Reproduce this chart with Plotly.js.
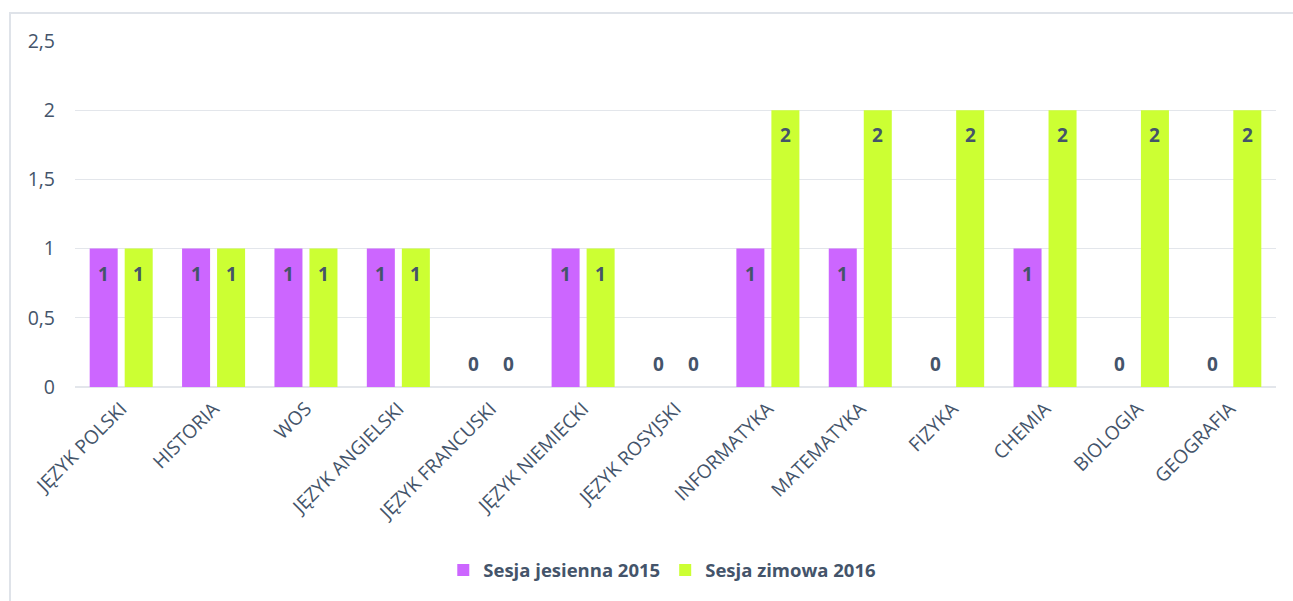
<!DOCTYPE html>
<html><head><meta charset="utf-8">
<script src="https://cdn.plot.ly/plotly-3.0.1.min.js"></script>
<style>
html,body{margin:0;padding:0;background:#fff;overflow:hidden}
#frame{position:absolute;left:9px;top:12px;width:1284px;height:589px;border-top:2px solid #dfe3e9;border-left:2px solid #dfe3e9;}
#chart{width:1282px;height:587px}
</style></head>
<body>
<div id="frame"><div id="chart"></div></div>
<script>
const categories = ["JĘZYK POLSKI","HISTORIA","WOS","JĘZYK ANGIELSKI","JĘZYK FRANCUSKI","JĘZYK NIEMIECKI","JĘZYK ROSYJSKI","INFORMATYKA","MATEMATYKA","FIZYKA","CHEMIA","BIOLOGIA","GEOGRAFIA"];
const seriesNames = ["Sesja jesienna 2015","Sesja zimowa 2016"];
const autumn2015 = [1,1,1,1,0,1,0,1,1,0,1,0,0];
const winter2016 = [1,1,1,1,0,1,0,2,2,2,2,2,2];
const yTicks = [0,0.5,1,1.5,2,2.5];

const txt = '#44546a';
const font = 'Open Sans, sans-serif';
const traces = [
  {type:'bar', name:seriesNames[0], x:categories, y:autumn2015, marker:{color:'#cc66ff'}, hoverinfo:'x+y'},
  {type:'bar', name:seriesNames[1], x:categories, y:winter2016, marker:{color:'#ccff33'}, hoverinfo:'x+y'}
];
const annotations = [];
[autumn2015, winter2016].forEach((vals, s) => {
  vals.forEach((v, i) => {
    annotations.push({x:categories[i], y:v, xref:'x', yref:'y', text:'<b>'+v+'</b>', showarrow:false,
      xshift: s===0 ? -17.5 : 17.5, yshift: v===0 ? 23 : -25, yanchor:'middle',
      font:{family:font, size:19, color:txt}});
  });
});
const layout = {
  margin:{l:64, r:17, t:27, b:211},
  paper_bgcolor:'#fff', plot_bgcolor:'#fff',
  separators:', ',
  barmode:'group', bargap:0.242, bargroupgap:0.2,
  font:{family:font, color:txt},
  xaxis:{tickangle:-45, tickfont:{family:font, size:19, color:txt}, showgrid:false, showline:false, ticks:'', ticklabelstandoff:6, automargin:false},
  yaxis:{range:[0,2.5], tickvals:yTicks, ticktext:yTicks.map(v=>String(v).replace('.',',')), gridcolor:'#e3e6eb', gridwidth:1,
    zeroline:true, zerolinecolor:'#e3e6eb', zerolinewidth:1.5, showline:false, ticks:'', ticklabelstandoff:19,
    tickfont:{family:font, size:19.5, color:txt}, automargin:false},
  legend:{orientation:'h', x:0.489, xanchor:'center', y:-0.53, yanchor:'middle', font:{family:font, size:18.5, color:txt, weight:'bold'}, itemwidth:30, traceorder:'normal'},
  annotations:annotations,
  showlegend:true
};
Plotly.newPlot('chart', traces, layout, {displayModeBar:false, staticPlot:true});
</script>
</body></html>
